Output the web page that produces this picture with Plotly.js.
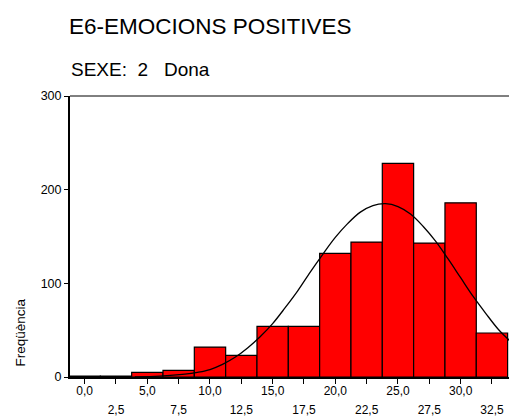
<!DOCTYPE html>
<html>
<head>
<meta charset="utf-8">
<script src="https://cdn.plot.ly/plotly-3.0.1.min.js"></script>
<style>html,body{margin:0;padding:0;background:#fff;}#chart{width:509px;height:419px;}</style>
</head>
<body>
<div id="chart"></div>
<script>
// Histogram bins (centres) and frequencies
const binCenters = [0, 2.5, 5, 7.5, 10, 12.5, 15, 17.5, 20, 22.5, 25, 27.5, 30, 32.5];
const frequencies = [1, 1, 5, 7, 32, 23, 54, 54, 132, 144, 228, 143, 186, 47];

// Fitted normal curve
const curveX = [4, 6, 8, 9, 10, 11, 12, 13, 14, 15, 16, 17, 18, 19, 20, 21, 22, 23, 24, 25, 26, 27, 28, 29, 30, 31, 32, 33, 33.9];
const curveY = [0.2, 0.9, 3, 5, 8, 13.5, 21, 31, 43, 57, 74, 92, 112, 131, 149, 164, 176, 183, 185, 182, 174, 161, 145, 126, 106, 86, 68, 51, 39];

// Axis ticks
const xTickVals = [0, 2.5, 5, 7.5, 10, 12.5, 15, 17.5, 20, 22.5, 25, 27.5, 30, 32.5];
const xTickRow1 = ["0,0", "", "5,0", "", "10,0", "", "15,0", "", "20,0", "", "25,0", "", "30,0", ""];
const xTickRow2Vals = [2.5, 7.5, 12.5, 17.5, 22.5, 27.5, 32.5];
const xTickRow2 = ["2,5", "7,5", "12,5", "17,5", "22,5", "27,5", "32,5"];
const yTickVals = [0, 100, 200, 300];
const yTickText = ["0", "100", "200", "300"];

const titleText = "E6-EMOCIONS POSITIVES";
const subtitleText = "SEXE:\u00a0 2\u00a0\u00a0 Dona";
const yTitleText = "Freqüència";

const FONT = "Liberation Sans, Arial, sans-serif";

const data = [
  {
    type: "bar",
    x: binCenters,
    y: frequencies,
    width: 2.5,
    marker: { color: "#ff0000", line: { color: "#000000", width: 1.2 } },
    hoverinfo: "x+y"
  },
  {
    type: "scatter",
    mode: "lines",
    x: curveX,
    y: curveY,
    line: { color: "#000000", width: 1.3, shape: "spline", smoothing: 1 },
    hoverinfo: "skip"
  },
  {
    type: "scatter",
    mode: "markers",
    x: [xTickRow2Vals[0]],
    y: [0],
    xaxis: "x2",
    marker: { opacity: 0 },
    hoverinfo: "skip"
  }
];

const layout = {
  width: 509,
  height: 419,
  margin: { l: 70, r: 0, t: 96, b: 41.5, pad: 0 },
  paper_bgcolor: "#ffffff",
  plot_bgcolor: "#ffffff",
  showlegend: false,
  font: { family: FONT, color: "#000000" },
  title: {
    text: titleText,
    font: { family: FONT, size: 22.5, color: "#000000" },
    xref: "container", yref: "container",
    x: 69 / 509, xanchor: "left",
    y: 1 - 26.5 / 419, yanchor: "middle"
  },
  bargap: 0,
  xaxis: {
    range: [-1.17, 33.86],
    tickmode: "array",
    tickvals: xTickVals,
    ticktext: xTickRow1,
    ticks: "outside",
    ticklen: 5,
    tickwidth: 1,
    tickcolor: "#000000",
    ticklabelstandoff: -3,
    tickfont: { family: FONT, size: 12, color: "#000000" },
    showline: true,
    linecolor: "#000000",
    linewidth: 2,
    showgrid: false,
    zeroline: false,
    fixedrange: true
  },
  xaxis2: {
    overlaying: "x",
    anchor: "y",
    side: "bottom",
    range: [-1.17, 33.86],
    tickmode: "array",
    tickvals: xTickRow2Vals,
    ticktext: xTickRow2,
    ticks: "",
    ticklabelstandoff: 24,
    tickfont: { family: FONT, size: 12, color: "#000000" },
    showline: false,
    showgrid: false,
    zeroline: false,
    fixedrange: true
  },
  yaxis: {
    range: [0, 300],
    tickmode: "array",
    tickvals: yTickVals,
    ticktext: yTickText,
    ticks: "outside",
    ticklen: 4,
    tickwidth: 1,
    tickcolor: "#000000",
    tickfont: { family: FONT, size: 12.5, color: "#000000" },
    showline: true,
    linecolor: "#000000",
    linewidth: 2,
    showgrid: false,
    zeroline: false,
    fixedrange: true
  },
  shapes: [
    { type: "line", xref: "paper", yref: "paper", x0: 0, x1: 1, y0: 1, y1: 1,
      line: { color: "#000000", width: 1 } }
  ],
  annotations: [
    {
      text: subtitleText,
      xref: "paper", yref: "paper",
      x: -1 / 439, xanchor: "left",
      y: (377.5 - 69.5) / 281.5, yanchor: "middle",
      showarrow: false,
      font: { family: FONT, size: 19, color: "#000000" }
    },
    {
      text: yTitleText,
      xref: "paper", yref: "paper",
      x: (21 - 70) / 439, xanchor: "center",
      y: (377.5 - 333) / 281.5, yanchor: "middle",
      textangle: -90,
      showarrow: false,
      font: { family: FONT, size: 13.5, color: "#000000" }
    }
  ]
};

Plotly.newPlot("chart", data, layout, { displayModeBar: false, staticPlot: true });
</script>
</body>
</html>
